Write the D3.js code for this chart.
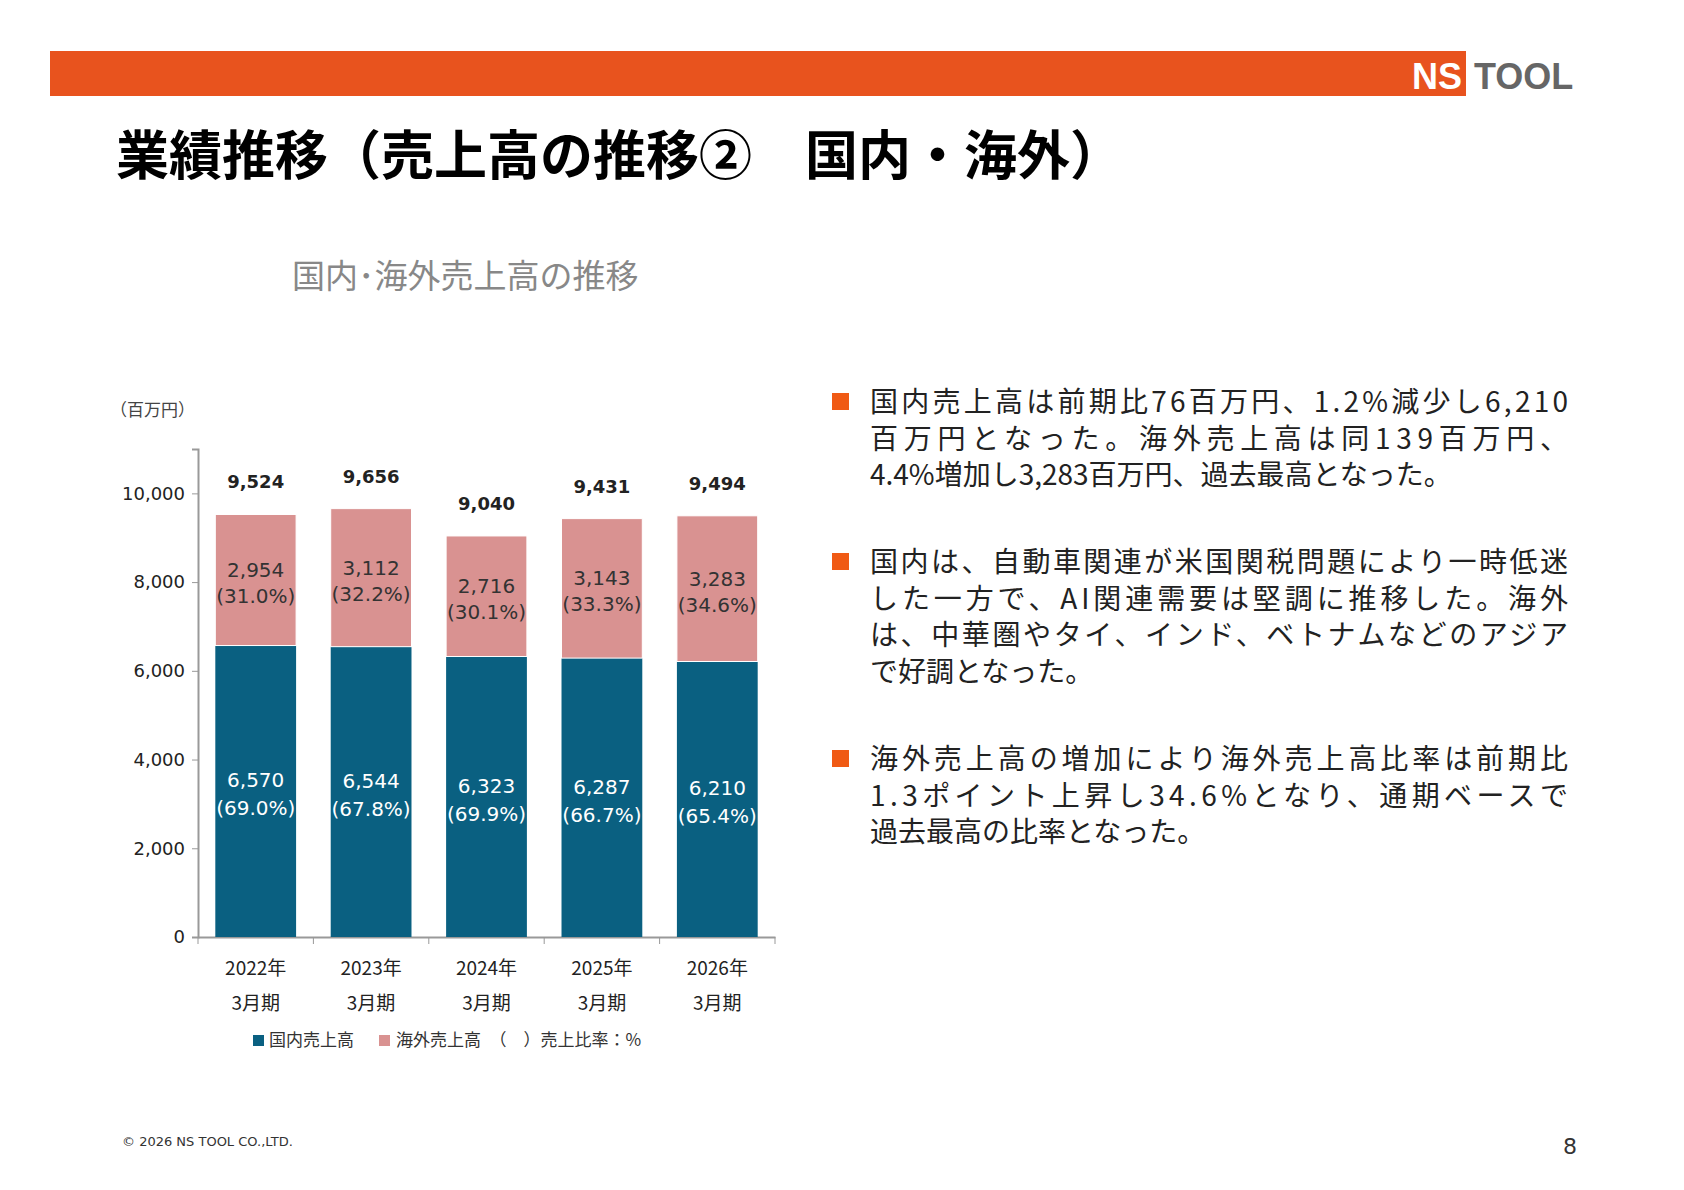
<!DOCTYPE html>
<html><head><meta charset="utf-8">
<script src="https://cdn.jsdelivr.net/npm/d3@7"></script>
<style>body{margin:0;background:#fff}text{font-family:"Noto Sans CJK JP","DejaVu Sans",sans-serif}</style>
</head><body><svg id="c" width="1684" height="1190"></svg>
<script>
const years = ["2022年", "2023年", "2024年", "2025年", "2026年"]
const domestic = [6570, 6544, 6323, 6287, 6210]
const overseas = [2954, 3112, 2716, 3143, 3283]
const totals = [9524, 9656, 9040, 9431, 9494]
const domPct = ["69.0", "67.8", "69.9", "66.7", "65.4"]
const ovPct = ["31.0", "32.2", "30.1", "33.3", "34.6"]
const yTicks = [0, 2000, 4000, 6000, 8000, 10000]
const paras = [
  ["国内売上高は前期比76百万円、1.2%減少し6,210", "百万円となった。海外売上高は同139百万円、", "4.4%増加し3,283百万円、過去最高となった。"],
  ["国内は、自動車関連が米国関税問題により一時低迷", "した一方で、AI関連需要は堅調に推移した。海外", "は、中華圏やタイ、インド、ベトナムなどのアジア", "で好調となった。"],
  ["海外売上高の増加により海外売上高比率は前期比", "1.3ポイント上昇し34.6%となり、通期ベースで", "過去最高の比率となった。"]
]

const svg = d3.select("#c")
const fmt = d3.format(",")

// header bar
svg.append("rect").attr("x", 50).attr("y", 51).attr("width", 1416).attr("height", 45).attr("fill", "#e8531e")
svg.append("text").text("NS").attr("x", 1462).attr("y", 89).attr("text-anchor", "end")
  .attr("font-size", 36).attr("font-weight", "bold").attr("fill", "#fff").style("font-family", "Liberation Sans Narrow, Liberation Sans")
svg.append("text").text("TOOL").attr("x", 1474).attr("y", 89)
  .attr("font-size", 36).attr("font-weight", "bold").attr("fill", "#666").style("font-family", "Liberation Sans Narrow, Liberation Sans")

svg.append("text").text("業績推移（売上高の推移②　国内・海外）").attr("x", 116).attr("y", 175)
  .attr("font-size", 53).attr("font-weight", "bold").attr("fill", "#000")
svg.append("text").text("国内･海外売上高の推移").attr("x", 292).attr("y", 288)
  .attr("font-size", 33).attr("fill", "#888")

// chart
const x = d3.scaleBand().domain(years).range([198, 775]).paddingInner(0.3).paddingOuter(0.15)
const y = d3.scaleLinear().domain([0, 11000]).range([937, 449])

svg.append("text").text("（百万円）").attr("x", 110).attr("y", 416).attr("font-size", 17).attr("fill", "#444")

const yAxis = svg.append("g").attr("transform", "translate(198,0)")
  .call(d3.axisLeft(y).tickValues(yTicks).tickFormat(fmt).tickSize(6))
yAxis.select(".domain").attr("stroke", "#999").attr("stroke-width", 2)
yAxis.selectAll(".tick line").attr("stroke", "#999")
yAxis.selectAll("text").attr("font-size", 18).attr("fill", "#222").attr("dx", -4).style("font-family", "DejaVu Sans")

const xs = d3.scaleBand().domain(years).range([198, 775])
const xAxis = svg.append("g").attr("transform", "translate(0,937)")
  .call(d3.axisBottom(xs).tickSize(0).tickFormat(""))
xAxis.select(".domain").attr("stroke", "#999").attr("stroke-width", 2)
xAxis.selectAll(".tick").remove()
svg.selectAll(".xt").data(years.concat(["end"])).join("line")
  .attr("x1", (d, i) => 198 + i * xs.step()).attr("x2", (d, i) => 198 + i * xs.step())
  .attr("y1", 937).attr("y2", 944).attr("stroke", "#999")

years.forEach((d, i) => {
  const cx = x(d) + x.bandwidth() / 2
  svg.append("rect").attr("x", x(d)).attr("width", x.bandwidth())
    .attr("y", y(domestic[i])).attr("height", y(0) - y(domestic[i])).attr("fill", "#0a6081")
  svg.append("rect").attr("x", x(d)).attr("width", x.bandwidth())
    .attr("y", y(totals[i])).attr("height", y(domestic[i]) - y(totals[i])).attr("fill", "#d99291")
    .attr("stroke", "#fff").attr("stroke-width", 1)
  const dm = (y(0) + y(domestic[i])) / 2 + 10
  svg.append("text").text(fmt(domestic[i])).attr("x", cx).attr("y", dm - 14).attr("text-anchor", "middle")
    .attr("font-size", 20).attr("fill", "#fff").style("font-family", "DejaVu Sans")
  svg.append("text").text("(" + domPct[i] + "%)").attr("x", cx).attr("y", dm + 14).attr("text-anchor", "middle")
    .attr("font-size", 20).attr("fill", "#fff").style("font-family", "DejaVu Sans")
  const om = (y(domestic[i]) + y(totals[i])) / 2 + 10
  svg.append("text").text(fmt(overseas[i])).attr("x", cx).attr("y", om - 13).attr("text-anchor", "middle")
    .attr("font-size", 20).attr("fill", "#333").style("font-family", "DejaVu Sans")
  svg.append("text").text("(" + ovPct[i] + "%)").attr("x", cx).attr("y", om + 13).attr("text-anchor", "middle")
    .attr("font-size", 20).attr("fill", "#333").style("font-family", "DejaVu Sans")
  svg.append("text").text(fmt(totals[i])).attr("x", cx).attr("y", y(totals[i]) - 26).attr("text-anchor", "middle")
    .attr("font-size", 18).attr("font-weight", "bold").attr("fill", "#222").style("font-family", "DejaVu Sans")
  svg.append("text").text(d).attr("x", cx).attr("y", 975).attr("text-anchor", "middle").attr("font-size", 19).attr("fill", "#222")
  svg.append("text").text("3月期").attr("x", cx).attr("y", 1010).attr("text-anchor", "middle").attr("font-size", 19).attr("fill", "#222")
})

// legend
const lg = svg.append("g").attr("transform", "translate(253,1046)")
lg.append("rect").attr("x", 0).attr("y", -11).attr("width", 11).attr("height", 11).attr("fill", "#0a6081")
lg.append("text").text("国内売上高").attr("x", 16).attr("y", 0).attr("font-size", 17).attr("fill", "#333")
lg.append("rect").attr("x", 126).attr("y", -11).attr("width", 11).attr("height", 11).attr("fill", "#d99291")
lg.append("text").text("海外売上高　（　）売上比率：%").attr("x", 143).attr("y", 0).attr("font-size", 17).attr("fill", "#333")

// bullets
const tops = [412, 572, 769]
paras.forEach((p, k) => {
  svg.append("rect").attr("x", 832).attr("y", tops[k] - 19).attr("width", 17).attr("height", 17).attr("fill", "#f05a14")
  p.forEach((line, j) => {
    const t = svg.append("text").text(line).attr("x", 870).attr("y", tops[k] + j * 36.7)
      .attr("font-size", 28).attr("fill", "#222")
    if (j < p.length - 1) t.attr("textLength", 698).attr("lengthAdjust", "spacing")
  })
})

svg.append("text").text("© 2026 NS TOOL CO.,LTD.").attr("x", 122).attr("y", 1146).attr("font-size", 13).attr("fill", "#333").style("font-family", "DejaVu Sans")
svg.append("text").text("8").attr("x", 1577).attr("y", 1154).attr("text-anchor", "end").attr("font-size", 22).attr("fill", "#333").style("font-family", "DejaVu Sans")
</script></body></html>
